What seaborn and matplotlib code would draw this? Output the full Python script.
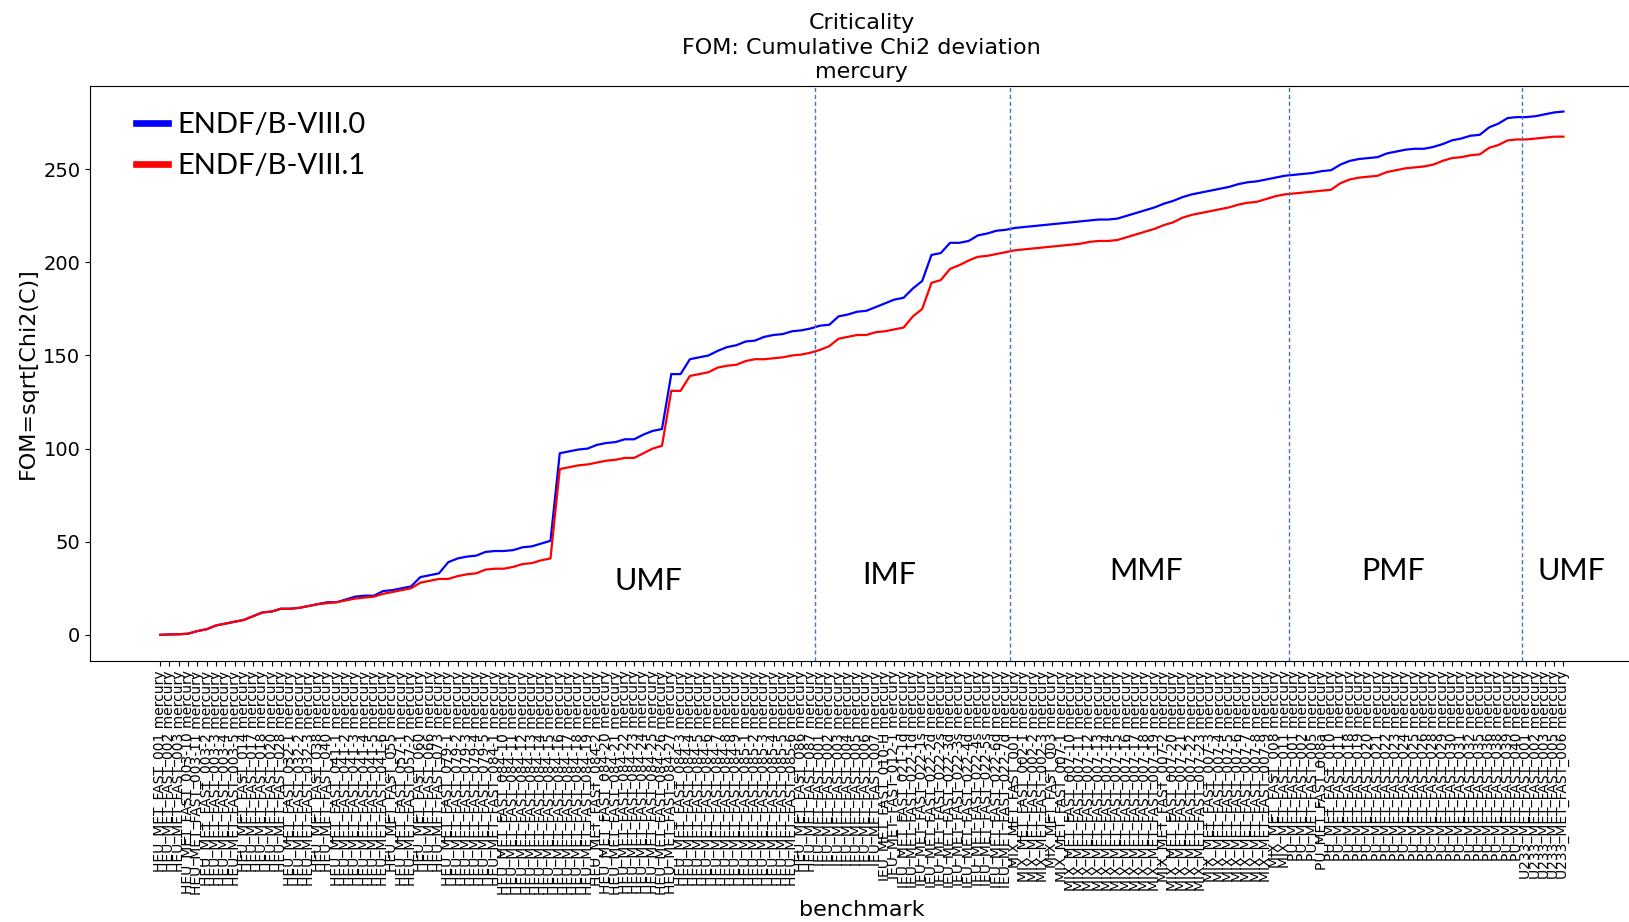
import matplotlib
matplotlib.use("Agg")
import matplotlib.pyplot as plt
import numpy as np
import pandas as pd
import seaborn as sns

# ---- benchmark names, grouped by category ----
heu = (["HEU_MET_FAST_001", "HEU_MET_FAST_002", "HEU_MET_FAST_003",
        "HEU_MET_FAST_003-10", "HEU_MET_FAST_003-11", "HEU_MET_FAST_003-2",
        "HEU_MET_FAST_003-3", "HEU_MET_FAST_003-4", "HEU_MET_FAST_003-5",
        "HEU_MET_FAST_014", "HEU_MET_FAST_017", "HEU_MET_FAST_018",
        "HEU_MET_FAST_020", "HEU_MET_FAST_028", "HEU_MET_FAST_032-1",
        "HEU_MET_FAST_032-2", "HEU_MET_FAST_032-3", "HEU_MET_FAST_038",
        "HEU_MET_FAST_040", "HEU_MET_FAST_041-1", "HEU_MET_FAST_041-2",
        "HEU_MET_FAST_041-3", "HEU_MET_FAST_041-4", "HEU_MET_FAST_041-5",
        "HEU_MET_FAST_041-6", "HEU_MET_FAST_055", "HEU_MET_FAST_057-1",
        "HEU_MET_FAST_057-2", "HEU_MET_FAST_060", "HEU_MET_FAST_066",
        "HEU_MET_FAST_073", "HEU_MET_FAST_079-1", "HEU_MET_FAST_079-2",
        "HEU_MET_FAST_079-3", "HEU_MET_FAST_079-4", "HEU_MET_FAST_079-5",
        "HEU_MET_FAST_084-1", "HEU_MET_FAST_084-10", "HEU_MET_FAST_084-11",
        "HEU_MET_FAST_084-12", "HEU_MET_FAST_084-13", "HEU_MET_FAST_084-14",
        "HEU_MET_FAST_084-15", "HEU_MET_FAST_084-16", "HEU_MET_FAST_084-17",
        "HEU_MET_FAST_084-18", "HEU_MET_FAST_084-19", "HEU_MET_FAST_084-2",
        "HEU_MET_FAST_084-20", "HEU_MET_FAST_084-21", "HEU_MET_FAST_084-22",
        "HEU_MET_FAST_084-23", "HEU_MET_FAST_084-24", "HEU_MET_FAST_084-25",
        "HEU_MET_FAST_084-26", "HEU_MET_FAST_084-27", "HEU_MET_FAST_084-3",
        "HEU_MET_FAST_084-4", "HEU_MET_FAST_084-5", "HEU_MET_FAST_084-6",
        "HEU_MET_FAST_084-7", "HEU_MET_FAST_084-8", "HEU_MET_FAST_084-9",
        "HEU_MET_FAST_085-1", "HEU_MET_FAST_085-2", "HEU_MET_FAST_085-3",
        "HEU_MET_FAST_085-4", "HEU_MET_FAST_085-5", "HEU_MET_FAST_085-6",
        "HEU_MET_FAST_086", "HEU_MET_FAST_087"])
ieu = ["IEU_MET_FAST_001", "IEU_MET_FAST_002", "IEU_MET_FAST_003",
       "IEU_MET_FAST_004", "IEU_MET_FAST_005", "IEU_MET_FAST_006",
       "IEU_MET_FAST_007", "IEU_MET_FAST_010-H", "IEU_MET_FAST_012-1",
       "IEU_MET_FAST_021-1d", "IEU_MET_FAST_022-1d", "IEU_MET_FAST_022-1s",
       "IEU_MET_FAST_022-2d", "IEU_MET_FAST_022-2s", "IEU_MET_FAST_022-3d",
       "IEU_MET_FAST_022-3s", "IEU_MET_FAST_022-4d", "IEU_MET_FAST_022-4s",
       "IEU_MET_FAST_022-5s", "IEU_MET_FAST_022-6d", "IEU_MET_FAST_022-7d"]
mix = (["MIX_MET_FAST_001", "MIX_MET_FAST_002-1", "MIX_MET_FAST_002-2",
        "MIX_MET_FAST_002-3", "MIX_MET_FAST_003", "MIX_MET_FAST_007-1"]
       + ["MIX_MET_FAST_007-%d" % k for k in range(10, 20)]
       + ["MIX_MET_FAST_007-2"]
       + ["MIX_MET_FAST_007-%d" % k for k in range(20, 24)]
       + ["MIX_MET_FAST_007-%d" % k for k in range(3, 10)]
       + ["MIX_MET_FAST_008", "MIX_MET_FAST_011"])
pu = ["PU_MET_FAST_001", "PU_MET_FAST_002", "PU_MET_FAST_005",
      "PU_MET_FAST_008a", "PU_MET_FAST_010", "PU_MET_FAST_011",
      "PU_MET_FAST_018", "PU_MET_FAST_019", "PU_MET_FAST_020",
      "PU_MET_FAST_021", "PU_MET_FAST_022", "PU_MET_FAST_023",
      "PU_MET_FAST_024", "PU_MET_FAST_025", "PU_MET_FAST_026",
      "PU_MET_FAST_028", "PU_MET_FAST_029", "PU_MET_FAST_030",
      "PU_MET_FAST_031", "PU_MET_FAST_032", "PU_MET_FAST_035",
      "PU_MET_FAST_036", "PU_MET_FAST_038", "PU_MET_FAST_039",
      "PU_MET_FAST_040"]
u233 = ["U233_MET_FAST_001", "U233_MET_FAST_002", "U233_MET_FAST_003",
        "U233_MET_FAST_005", "U233_MET_FAST_006"]

group_names = ["UMF", "IMF", "MMF", "PMF", "UMF"]
groups = [heu, ieu, mix, pu, u233]
benchmarks = [b + " mercury" for g in groups for b in g]

# ---- cumulative FOM per library ----
fom_viii0 = [
    0, 0.2, 0.3, 0.6, 2, 3, 5, 6, 7, 8,
    10, 12, 12.5, 14, 14, 14.5, 15.5, 16.5, 17.5, 17.5,
    19, 20.5, 21, 21, 23.5, 24, 25, 26, 31, 32,
    33, 39, 41, 42, 42.5, 44.5, 45, 45, 45.5, 47,
    47.5, 49, 50.5, 97.5, 98.5, 99.5, 100, 102, 103, 103.5,
    105, 105, 107.5, 109.5, 110.5, 140, 140, 148, 149, 150,
    152.5, 154.5, 155.5, 157.5, 158, 160, 161, 161.5, 163, 163.5,
    164.5,
    166, 166.5, 171, 172, 173.5, 174, 176, 178, 180, 181,
    186, 190, 204, 205, 210.5, 210.5, 211.5, 214.5, 215.5, 217,
    217.5,
    218.5, 219, 219.5, 220, 220.5, 221, 221.5, 222, 222.5, 223,
    223, 223.5, 225, 226.5, 228, 229.5, 231.5, 233, 235, 236.5,
    237.5, 238.5, 239.5, 240.5, 242, 243, 243.5, 244.5, 245.5, 246.5,
    247, 247.5, 248, 249, 249.5, 252.5, 254.5, 255.5, 256, 256.5,
    258.5, 259.5, 260.5, 261, 261, 262, 263.5, 265.5, 266.5, 268,
    268.5, 272.5, 274.5, 277.5, 278,
    278, 278.5, 279.5, 280.5, 281]

fom_viii1 = [
    0, 0.2, 0.3, 0.6, 2, 3, 5, 6, 7, 8,
    10, 12, 12.5, 14, 14, 14.5, 15.5, 16.5, 17, 17.5,
    18.5, 19.5, 20, 20.5, 22, 23, 24, 25, 28, 29,
    30, 30, 31.5, 32.5, 33, 35, 35.5, 35.5, 36.5, 38,
    38.5, 40, 41, 89, 90, 91, 91.5, 92.5, 93.5, 94,
    95, 95, 97.5, 100, 101.5, 131, 131, 139, 140, 141,
    143.5, 144.5, 145, 147, 148, 148, 148.5, 149, 150, 150.5,
    151.5,
    153, 155, 159, 160, 161, 161, 162.5, 163, 164, 165,
    171, 175, 189, 190.5, 196.5, 198.5, 201, 203, 203.5, 204.5,
    205.5,
    206.5, 207, 207.5, 208, 208.5, 209, 209.5, 210, 211, 211.5,
    211.5, 212, 213.5, 215, 216.5, 218, 220, 221.5, 224, 225.5,
    226.5, 227.5, 228.5, 229.5, 231, 232, 232.5, 234, 235.5, 236.5,
    237, 237.5, 238, 238.5, 239, 242.5, 244.5, 245.5, 246, 246.5,
    248.5, 249.5, 250.5, 251, 251.5, 252.5, 254.5, 256, 256.5, 257.5,
    258, 261.5, 263, 265.5, 266,
    266, 266.5, 267, 267.5, 267.5]

libraries = ["ENDF/B-VIII.0", "ENDF/B-VIII.1"]
colors = ["#0000ff", "#ff0000"]

idx = np.arange(len(benchmarks))
df = pd.DataFrame({
    "pos": np.concatenate([idx, idx]),
    "FOM": fom_viii0 + fom_viii1,
    "library": [libraries[0]] * len(idx) + [libraries[1]] * len(idx),
})

W, H = 1629, 922
fig = plt.figure(figsize=(W / 100, H / 100), dpi=100)
ax = fig.add_axes([90 / W, (H - 660.7) / H, 1543.6 / W, (660.7 - 86.2) / H])

sns.lineplot(data=df, x="pos", y="FOM", hue="library", palette=colors,
             sort=False, estimator=None, linewidth=1.6, ax=ax, legend=True)

n = len(benchmarks)
ax.set_xlim(-0.05 * (n - 1), 1.05 * (n - 1))
ax.set_ylim(-13.9, 294.6)
ax.set_xticks(idx)
ax.set_xticklabels(benchmarks, rotation=90, fontsize=10)
ax.set_yticks([0, 50, 100, 150, 200, 250])
ax.tick_params(axis="y", labelsize=14)
ax.set_xlabel("benchmark", fontsize=16)
ax.set_ylabel("FOM=sqrt[Chi2(C)]", fontsize=16)
ax.set_title("Criticality\nFOM: Cumulative Chi2 deviation\nmercury",
             fontsize=16, linespacing=1.27)

# category separators and labels
start = 0
bounds = []
for g in groups[:-1]:
    start += len(g)
    bounds.append(start - 0.5)
for b in bounds:
    ax.axvline(b, color="#4472c4", lw=1.0, ls=(0, (3, 2)))

label_pos = [(52.5, 29), (78.5, 32), (106.1, 34), (132.7, 34), (151.9, 34)]
for name, (lx, ly) in zip(group_names, label_pos):
    ax.text(lx, ly, name, ha="center", va="center", fontsize=22,
            family="Lato")

leg = ax.legend(loc="upper left", frameon=False,
                prop={"family": "Lato", "size": 21},
                handlelength=1.08, handletextpad=0.35, labelspacing=0.5,
                borderaxespad=0.3, bbox_to_anchor=(0.0166, 0.99))
for line in leg.get_lines():
    line.set_linewidth(4.8)

fig.savefig("out.png", dpi=100)
